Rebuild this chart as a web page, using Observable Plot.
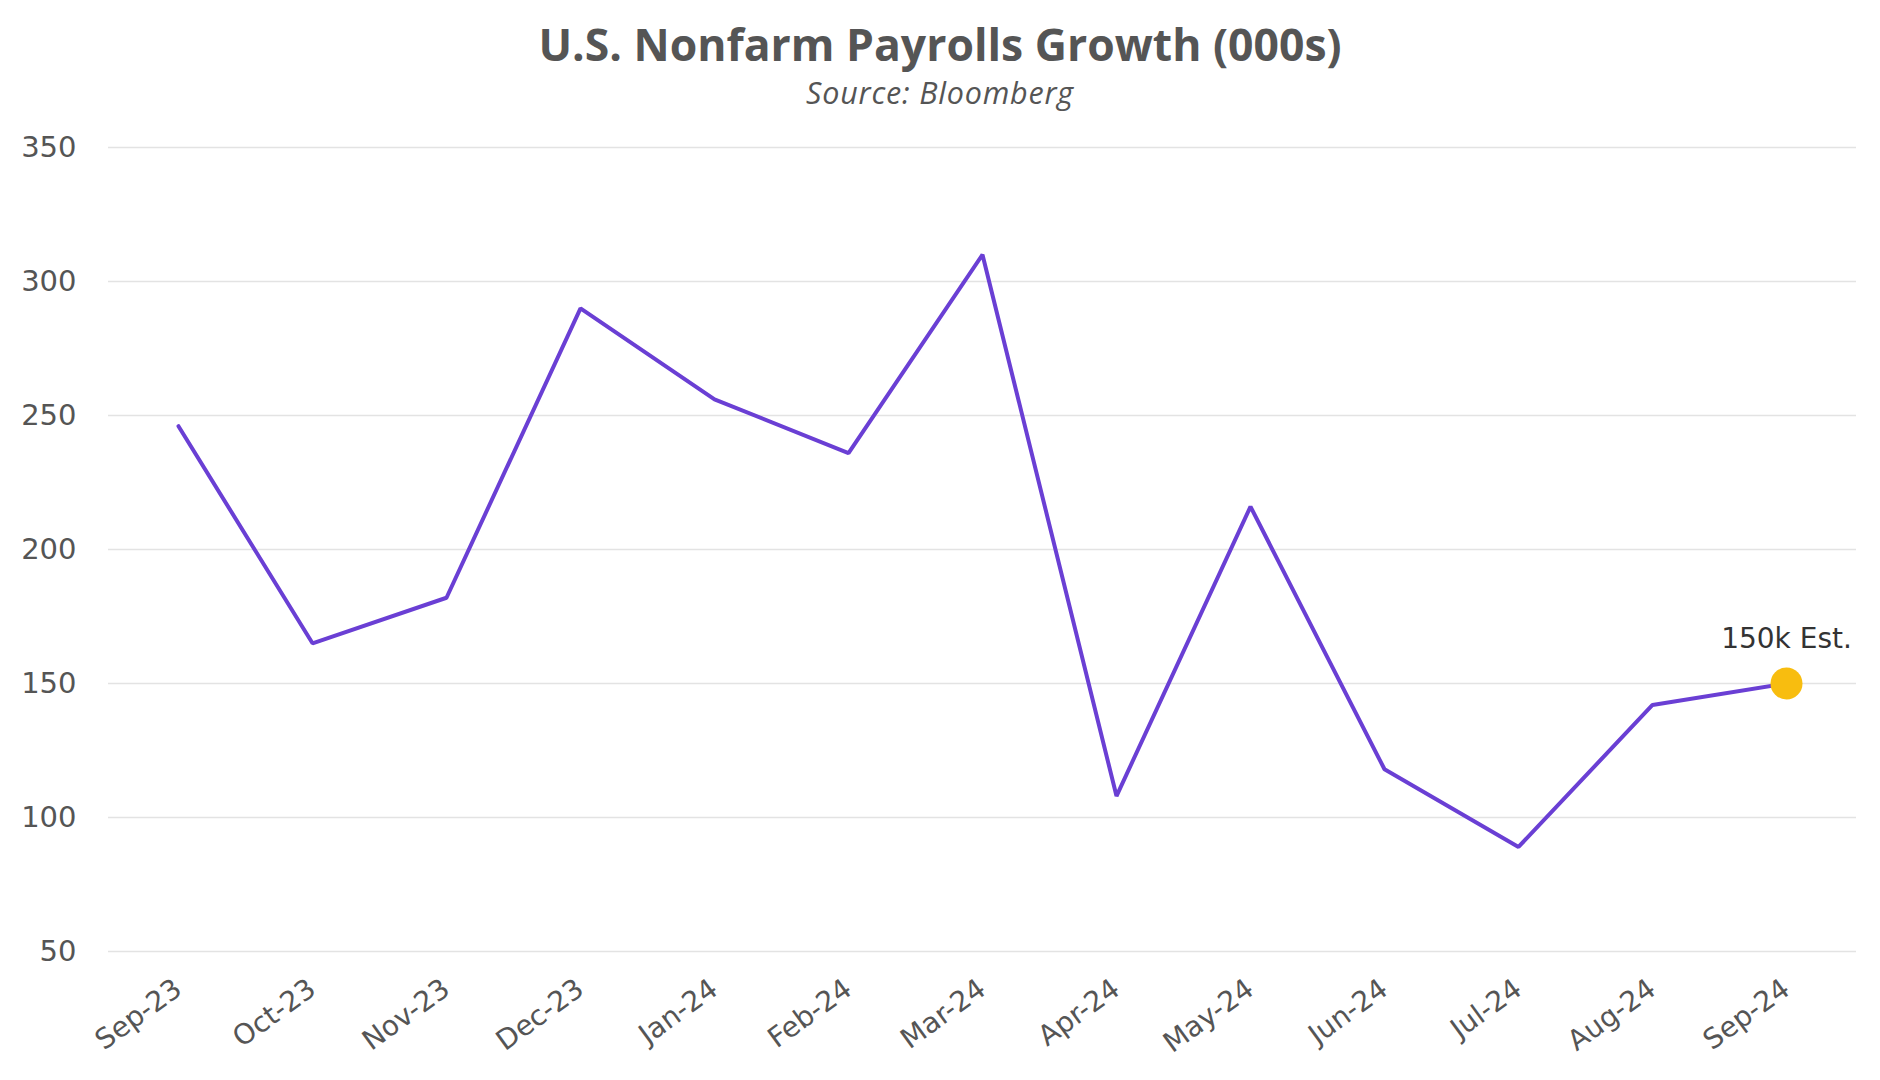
<!DOCTYPE html>
<html>
<head>
<meta charset="utf-8">
<script src="https://cdn.jsdelivr.net/npm/d3@7"></script>
<script src="https://cdn.jsdelivr.net/npm/@observablehq/plot@0.6"></script>
<style>
  html, body { margin: 0; padding: 0; background: #fff; }
  #wrap { width: 1880px; height: 1080px; position: relative; overflow: hidden; }
  #head { position: relative; height: 110px; width: 1880px; }
  #title { position: absolute; top: 16px; left: 0; width: 1880px; text-align: center;
    font-family: "Open Sans", sans-serif; font-weight: 700; font-size: 44.5px; color: #555; line-height: 56px; }
  #sub { position: absolute; top: 73px; left: 0; width: 1880px; text-align: center;
    font-family: "Open Sans", sans-serif; font-style: italic; font-size: 30.5px; letter-spacing: 0.8px; color: #555; line-height: 38px; }
  svg { display: block; }
</style>
</head>
<body>
<div id="wrap">
  <div id="head">
    <div id="title">U.S. Nonfarm Payrolls Growth (000s)</div>
    <div id="sub">Source: Bloomberg</div>
  </div>
  <div id="chart"></div>
</div>
<script>
const months = ["Sep-23","Oct-23","Nov-23","Dec-23","Jan-24","Feb-24","Mar-24","Apr-24","May-24","Jun-24","Jul-24","Aug-24","Sep-24"];
const payrolls = [246,165,182,290,256,236,310,108,216,118,89,142,150];
const yTicks = [50,100,150,200,250,300,350];
const estimateLabel = "150k Est.";

const data = months.map((m, i) => ({month: m, value: payrolls[i]}));
const est = [data[data.length - 1]];

const chart = Plot.plot({
  width: 1880,
  height: 970,
  marginTop: 37,
  marginBottom: 129,
  marginLeft: 108,
  marginRight: 24,
  style: {fontFamily: "'DejaVu Sans', sans-serif", background: "#fff"},
  x: {type: "point", domain: months, padding: 0.5, label: null},
  y: {domain: [50, 350], label: null},
  marks: [
    Plot.ruleY(yTicks, {stroke: "#e3e3e3", strokeWidth: 1.5}),
    Plot.axisY({ticks: yTicks, tickSize: 0, tickPadding: 32, fontSize: 29, fill: "#555", label: null, style: {letterSpacing: "3.5px"}}),
    Plot.axisX({tickSize: 0, tickPadding: 34, tickRotate: -36, fontSize: 28, fill: "#555", label: null}),
    Plot.line(data, {x: "month", y: "value", stroke: "#6a3fd4", strokeWidth: 4, strokeLinejoin: "miter"}),
    Plot.dot(est, {x: "month", y: "value", r: 16, fill: "#f8bd0f", stroke: "none"}),
    Plot.text(est, {x: "month", y: "value", text: () => estimateLabel, dy: -44, fontSize: 28, fill: "#333"})
  ]
});
document.getElementById("chart").appendChild(chart);
</script>
</body>
</html>
